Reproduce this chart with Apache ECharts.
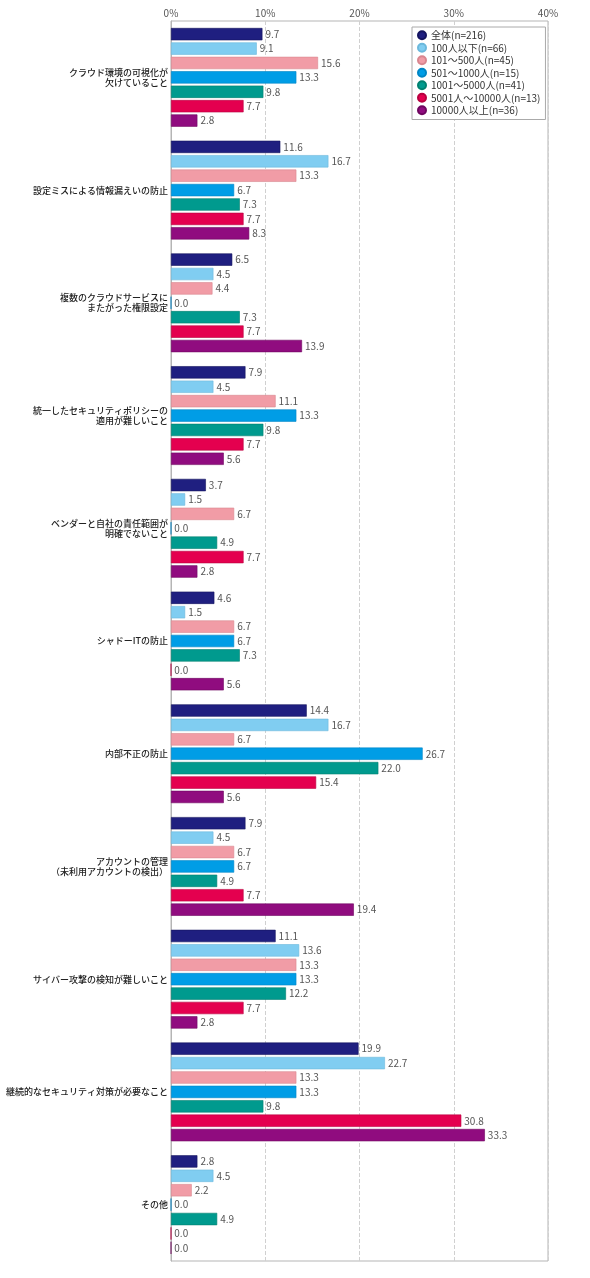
<!DOCTYPE html>
<html>
<head>
<meta charset="utf-8">
<script src="https://cdn.jsdelivr.net/npm/echarts@6/dist/echarts.min.js"></script>
<style>
html,body{margin:0;padding:0;background:#fff;}
#c{width:590px;height:1278px;}
</style>
</head>
<body>
<div id="c"></div>
<script>
const categories = [
  'クラウド環境の可視化が\n欠けていること',
  '設定ミスによる情報漏えいの防止',
  '複数のクラウドサービスに\nまたがった権限設定',
  '統一したセキュリティポリシーの\n適用が難しいこと',
  'ベンダーと自社の責任範囲が\n明確でないこと',
  'シャドーITの防止',
  '内部不正の防止',
  'アカウントの管理\n（未利用アカウントの検出）',
  'サイバー攻撃の検知が難しいこと',
  '継続的なセキュリティ対策が必要なこと',
  'その他'
];
const seriesNames = [
  '全体(n=216)',
  '100人以下(n=66)',
  '101～500人(n=45)',
  '501～1000人(n=15)',
  '1001～5000人(n=41)',
  '5001人～10000人(n=13)',
  '10000人以上(n=36)'
];
const xTicks = [0, 10, 20, 30, 40];
const total      = [9.7, 11.6, 6.5, 7.9, 3.7, 4.6, 14.4, 7.9, 11.1, 19.9, 2.8];
const under100   = [9.1, 16.7, 4.5, 4.5, 1.5, 1.5, 16.7, 4.5, 13.6, 22.7, 4.5];
const s101_500   = [15.6, 13.3, 4.4, 11.1, 6.7, 6.7, 6.7, 6.7, 13.3, 13.3, 2.2];
const s501_1000  = [13.3, 6.7, 0.0, 13.3, 0.0, 6.7, 26.7, 6.7, 13.3, 13.3, 0.0];
const s1001_5000 = [9.8, 7.3, 7.3, 9.8, 4.9, 7.3, 22.0, 4.9, 12.2, 9.8, 4.9];
const s5001_10000= [7.7, 7.7, 7.7, 7.7, 7.7, 0.0, 15.4, 7.7, 7.7, 30.8, 0.0];
const over10000  = [2.8, 8.3, 13.9, 5.6, 2.8, 5.6, 5.6, 19.4, 2.8, 33.3, 0.0];
const seriesValues = [total, under100, s101_500, s501_1000, s1001_5000, s5001_10000, over10000];

const colors = ['#1f1f80', '#80cdf1', '#f19ca6', '#009de6', '#009a8e', '#e4004f', '#900c7f'];
const borders = ['#14145e', '#6bb8dc', '#d9868f', '#0085c4', '#00806f', '#b80040', '#6e065f'];
const FONT = '"Noto Sans CJK JP", "Noto Sans", sans-serif';

const chart = echarts.init(document.getElementById('c'), null, {renderer: 'canvas'});
const series = seriesNames.map((name, i) => ({
  name: name,
  type: 'bar',
  data: seriesValues[i],
  barCategoryGap: '12.4%',
  barGap: '17%',
  itemStyle: { color: colors[i], borderColor: borders[i], borderWidth: 0.6 },
  label: {
    show: true,
    position: 'right',
    distance: 3,
    fontSize: 10,
    fontFamily: FONT,
    color: '#555',
    formatter: p => p.value.toFixed(1)
  },
  emphasis: { disabled: true },
  animation: false
}));

chart.setOption({
  animation: false,
  color: colors,
  textStyle: { fontFamily: FONT },
  grid: {
    left: 171, right: 42, top: 21, bottom: 17,
    show: true, borderColor: '#b5b5b5', borderWidth: 1, containLabel: false
  },
  legend: {
    orient: 'vertical',
    left: 412, top: 27,
    icon: 'circle',
    itemWidth: 8, itemHeight: 8, itemGap: 0,
    padding: [2, 5, 3, 5],
    borderColor: '#aaa', borderWidth: 1, backgroundColor: '#fff',
    textStyle: { fontSize: 10, color: '#333', fontFamily: FONT, lineHeight: 12.5 },
    data: seriesNames
  },
  xAxis: {
    type: 'value',
    position: 'top',
    min: xTicks[0], max: xTicks[xTicks.length - 1], interval: 10,
    axisLine: { show: false },
    axisTick: { show: false },
    axisLabel: { formatter: '{value}%', fontSize: 10, color: '#555', margin: 3, fontFamily: FONT },
    splitLine: { show: true, lineStyle: { type: 'dashed', color: '#d0d0d0', width: 1 } }
  },
  yAxis: {
    type: 'category',
    inverse: true,
    data: categories,
    axisLine: { show: true, lineStyle: { color: '#b5b5b5' } },
    axisTick: { show: false },
    axisLabel: {
      fontSize: 9, color: '#222', lineHeight: 10, margin: 3,
      fontFamily: FONT, fontWeight: 500, align: 'right'
    }
  },
  series: series
});
</script>
</body>
</html>
